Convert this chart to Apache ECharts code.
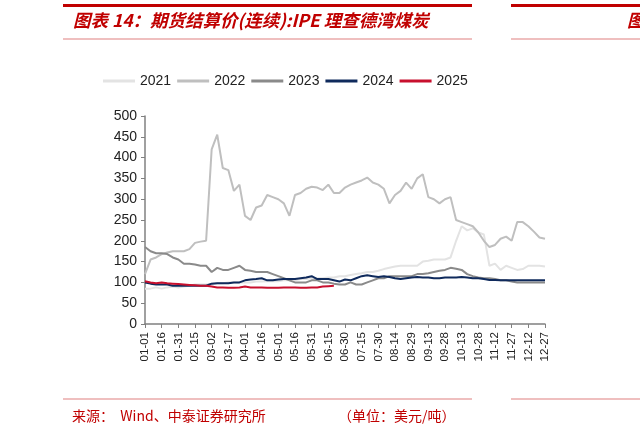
<!DOCTYPE html>
<html><head><meta charset="utf-8">
<script src="https://cdn.jsdelivr.net/npm/echarts@6/dist/echarts.min.js"></script>
<style>html,body{margin:0;padding:0;background:#fff}#c{width:640px;height:437px}</style>
</head><body><div id="c"></div>
<script>
// categories: every 5 days, labels every 15 days
const categories = (function(){const a=[];const d=new Date(Date.UTC(2021,0,1));for(let i=0;i<73;i++){const m=String(d.getUTCMonth()+1).padStart(2,'0');const dd=String(d.getUTCDate()).padStart(2,'0');a.push(m+'-'+dd);d.setUTCDate(d.getUTCDate()+5);}return a;})();
const s2021 = [85,85,88,85,88,90,88,90,92,95,95,95,97,98,98,100,100,100,100,100,102,102,103,103,103,105,105,105,108,108,110,110,110,112,112,115,115,118,120,122,125,125,128,132,135,138,140,140,140,140,150,152,155,155,155,160,200,235,225,230,220,215,140,145,130,140,135,130,132,140,140,140,138];
const s2022 = [120,155,160,168,172,175,175,175,180,195,198,200,420,455,375,370,320,335,260,250,280,285,310,305,300,290,260,310,315,325,330,328,322,335,315,315,328,335,340,345,352,340,335,325,290,310,320,340,325,350,360,305,300,290,300,305,250,245,240,235,220,200,185,190,205,210,200,245,245,235,222,208,205];
const s2023 = [185,175,170,170,168,160,155,145,145,143,140,140,125,135,130,130,135,140,130,128,125,125,125,120,115,110,105,100,100,100,105,105,100,100,97,95,95,100,95,95,100,105,110,110,115,115,115,115,115,120,120,122,125,128,130,135,133,130,120,115,112,110,110,108,105,105,102,100,100,100,100,100,100];
const s2024 = [100,97,95,95,95,92,92,92,92,92,92,92,97,98,98,98,100,100,105,107,108,110,105,105,107,108,108,108,110,112,115,108,108,108,105,102,107,105,110,115,117,115,113,115,113,110,108,110,112,113,112,112,110,110,112,112,112,113,112,110,110,108,106,106,105,105,105,105,105,105,105,105,105];
const s2025 = [103,100,98,100,98,97,96,95,94,93,92,92,90,88,88,87,87,88,90,88,88,88,87,87,87,88,88,88,87,87,88,88,90,91,92];
const yTicks = [0,50,100,150,200,250,300,350,400,450,500];

const chart = echarts.init(document.getElementById('c'));
const mk=(n,d,c,w)=>({name:n,type:'line',data:d,symbol:'none',lineStyle:{color:c,width:w},itemStyle:{color:c}});
chart.setOption({
  animation:false,
  legend:{top:69,left:98,itemWidth:32,itemHeight:3,itemGap:6,icon:'rect',textStyle:{fontSize:14,color:'#222',fontFamily:'Liberation Sans'},data:['2021','2022','2023','2024','2025']},
  grid:{left:145,right:95,top:116,bottom:113},
  xAxis:{type:'category',boundaryGap:false,data:categories,
    axisLine:{lineStyle:{color:'#808080',width:1.5}},
    axisTick:{interval:2,alignWithLabel:true,length:4,lineStyle:{color:'#808080'}},
    axisLabel:{interval:2,rotate:90,fontSize:11.5,color:'#222',fontFamily:'Liberation Sans'}},
  yAxis:{type:'value',min:yTicks[0],max:yTicks[yTicks.length-1],interval:50,
    axisLine:{show:true,lineStyle:{color:'#808080',width:1.5}},axisTick:{show:true,length:4,lineStyle:{color:'#808080'}},
    splitLine:{show:false},axisLabel:{fontSize:14,color:'#222',fontFamily:'Liberation Sans'}},
  series:[mk('2021',s2021,'#e3e3e3',2),mk('2022',s2022,'#bfbfbf',2),mk('2023',s2023,'#8a8a8a',2),mk('2024',s2024,'#0f2a5c',2),mk('2025',s2025,'#c8102e',2)],
  graphic:[
    {type:'rect',shape:{x:63,y:4,width:409,height:3},style:{fill:'#c00000'}},
    {type:'rect',shape:{x:511,y:4,width:129,height:3},style:{fill:'#c00000'}},
    {type:'rect',shape:{x:63,y:38.5,width:409,height:1},style:{fill:'#e08080'}},
    {type:'rect',shape:{x:511,y:38.5,width:129,height:1},style:{fill:'#e08080'}},
    {type:'text',left:73,top:12,style:{text:'图表 14：期货结算价(连续):IPE 理查德湾煤炭',fill:'#c00000',font:'italic bold 17.5px "Noto Sans CJK SC", sans-serif'}},
    {type:'text',left:627,top:12,style:{text:'图',fill:'#c00000',font:'italic bold 17.5px "Noto Sans CJK SC", sans-serif'}},
    {type:'rect',shape:{x:63,y:398.5,width:409,height:1},style:{fill:'#e08080'}},
    {type:'rect',shape:{x:511,y:398.5,width:129,height:1},style:{fill:'#e08080'}},
    {type:'text',left:72,top:409,style:{text:'来源：  Wind、中泰证券研究所',fill:'#c00000',font:'14px "Noto Sans CJK SC", sans-serif'}},
    {type:'text',left:338,top:409,style:{text:'（单位：美元/吨）',fill:'#c00000',font:'14px "Noto Sans CJK SC", sans-serif'}}
  ]
});
</script></body></html>
